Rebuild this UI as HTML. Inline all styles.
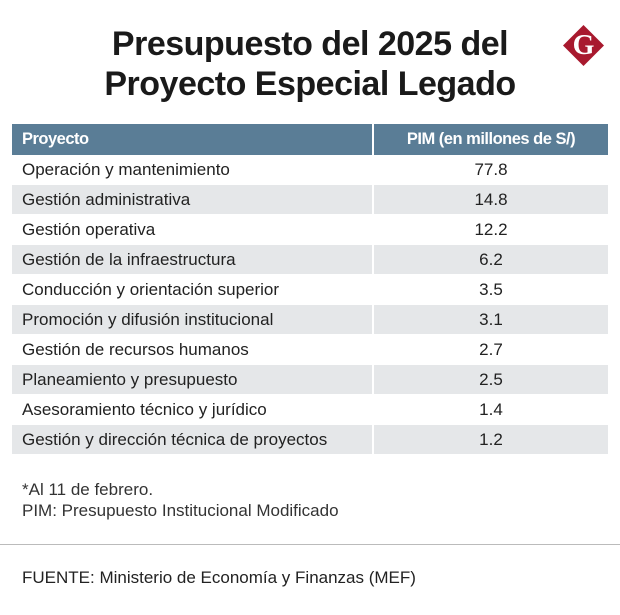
<!DOCTYPE html>
<html><head><meta charset="utf-8"><style>
body{margin:0;width:620px;height:615px;background:#fff;font-family:"Liberation Sans",sans-serif;color:#222;position:relative;overflow:hidden}
#title{position:absolute;left:40px;width:540px;top:24px;text-align:center;font-weight:bold;font-size:34px;line-height:40px;color:#1a1a1a;letter-spacing:-0.5px}
#logo{position:absolute;left:569px;top:31px;width:29px;height:29px;background:#a8192e;transform:rotate(45deg)}
#logo-g{position:absolute;left:565px;top:27px;width:37px;text-align:center;font-family:"Liberation Serif",serif;font-weight:bold;font-size:28px;line-height:37px;color:#fff}
table{position:absolute;left:12px;top:124px;width:596px;border-collapse:collapse}
th{background:#5a7d96;color:#fff;font-size:16.5px;font-weight:bold;height:31px;text-align:left;padding:0 0 0 10px;border-right:2px solid #fff;letter-spacing:-0.5px}
th.v{text-align:center;padding:0;border-right:0}
td{height:29px;padding:0 0 0 10px;font-size:17px;color:#222;border-right:2px solid #fff;border-bottom:1px solid #fff}
td.v{text-align:center;padding:0;border-right:0}
tr:nth-child(even) td{background:#e5e7e9}
.note{position:absolute;left:22px;font-size:17px;color:#333}
#rule{position:absolute;left:0;width:620px;top:544px;height:1px;background:#bbb}
</style></head><body>
<div id="title">Presupuesto del 2025 del<br>Proyecto Especial Legado</div>
<div id="logo"></div>
<div id="logo-g">G</div>
<table>
<thead><tr><th style="width:350px">Proyecto</th><th class="v">PIM (en millones de S/)</th></tr></thead>
<tbody id="tb"></tbody></table>
<div class="note" style="top:480px">*Al 11 de febrero.</div>
<div class="note" style="top:501px">PIM: Presupuesto Institucional Modificado</div>
<div id="rule"></div>
<div class="note" style="top:568px;color:#222">FUENTE: Ministerio de Economía y Finanzas (MEF)</div>
<script>
const projects=["Operación y mantenimiento","Gestión administrativa","Gestión operativa","Gestión de la infraestructura","Conducción y orientación superior","Promoción y difusión institucional","Gestión de recursos humanos","Planeamiento y presupuesto","Asesoramiento técnico y jurídico","Gestión y dirección técnica de proyectos"];
const values=[77.8,14.8,12.2,6.2,3.5,3.1,2.7,2.5,1.4,1.2];
const tb=document.getElementById('tb');
projects.forEach((p,i)=>{
const tr=document.createElement('tr');


const a=document.createElement('td');a.textContent=p;


const b=document.createElement('td');b.className='v';b.textContent=values[i].toFixed(1);


tr.appendChild(a);tr.appendChild(b);tb.appendChild(tr);
});
</script>
</body></html>
